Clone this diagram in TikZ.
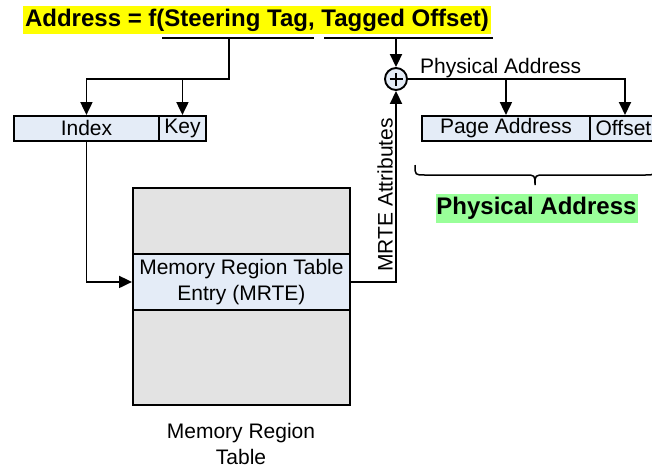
\documentclass[tikz,border=0pt]{standalone}
\usepackage{fontspec}
\setmainfont{Liberation Sans}
\usetikzlibrary{arrows.meta}
\definecolor{boxblue}{HTML}{E4ECF7}
\definecolor{tablegray}{HTML}{E3E3E3}
\definecolor{hlgreen}{HTML}{99FF99}
\definecolor{hlyellow}{HTML}{FFFF00}
\begin{document}
\begin{tikzpicture}[x=1pt,y=-1pt,
  every node/.style={font=\fontsize{21}{26}\selectfont, inner sep=0pt},
  field/.style={draw, line width=1.9pt, fill=boxblue, anchor=north west, minimum height=25pt},
  wire/.style={line width=1.9pt},
  arr/.style={line width=1.9pt, -{Triangle[length=13pt,width=12pt]}},
  bigbold/.style={font=\fontsize{24}{28}\selectfont\bfseries}]
\useasboundingbox (0,0) rectangle (652,471);

% title
\node[bigbold, fill=hlyellow, minimum width=468pt, minimum height=28pt] (title) at (257,20) {Address = f(Steering Tag, Tagged Offset)};
\coordinate (ula) at (162,38);
\coordinate (ulb) at (314,38);
\coordinate (ulc) at (324,38);
\coordinate (uld) at (493,38);
\coordinate (ulm) at (229,38);
\coordinate (uln) at (396,38);
\draw[wire] (ula) -- (ulb);
\draw[wire] (ulc) -- (uld);

% index / key
\node[field, minimum width=145pt] (index) at (13,115) {Index};
\node[field, minimum width=47pt] (key) at (158,115) {Key};

% page address / offset
\node[field, minimum width=168pt] (page) at (421,115) {Page Address};
\node[field, minimum width=67pt] (offset) at (589,115) {Offset};

% adder
\node[draw, circle, line width=1.9pt, fill=boxblue, minimum size=22pt] (sum) at (396,79) {};
\draw[line width=2.4pt] ([xshift=-6.5pt]sum.center) -- ([xshift=6.5pt]sum.center);
\draw[line width=2.4pt] ([yshift=-6.5pt]sum.center) -- ([yshift=6.5pt]sum.center);

% table
\node[draw, line width=1.9pt, fill=tablegray, anchor=north west, minimum width=217pt, minimum height=217pt] (table) at (132,187) {};
\node[field, minimum width=217pt, minimum height=56pt, align=center] (mrte) at (132,253) {Memory Region Table\\Entry (MRTE)};
\node[align=center, anchor=north] (tlabel) at (241,423) {Memory Region\\Table};

% labels
\node[anchor=base west] (palabel) at (420,73) {Physical Address};
\node[rotate=90] (attr) at (385,195) {MRTE Attributes};
\node[bigbold, fill=hlgreen, minimum width=202pt, minimum height=29pt] (paddr) at (536.5,208.5) {Physical Address};

% brace
\draw[line width=1.5pt] (415,165) .. controls (415,175) .. (425,175) -- (525,175)
  .. controls (535,175) .. (535,185) .. controls (535,175) .. (545,175) -- (645,175)
  .. controls (655,175) .. (655,165);

% connectors
\coordinate (split) at (229,79);
\coordinate (offtop) at (625,79);
\draw[arr] (ulm) -- (split) -| (index.north);
\draw[arr] (key.north |- split) -- (key.north);
\draw[arr] (uln) -- (sum.north);
\draw[arr] (sum.east) -- (offtop) -- (offtop |- offset.north);
\draw[arr] (page.north |- sum.east) -- (page.north);
\draw[arr] (index.south) |- (mrte.west);
\draw[arr] (mrte.east) -| (sum.south);
\end{tikzpicture}
\end{document}
